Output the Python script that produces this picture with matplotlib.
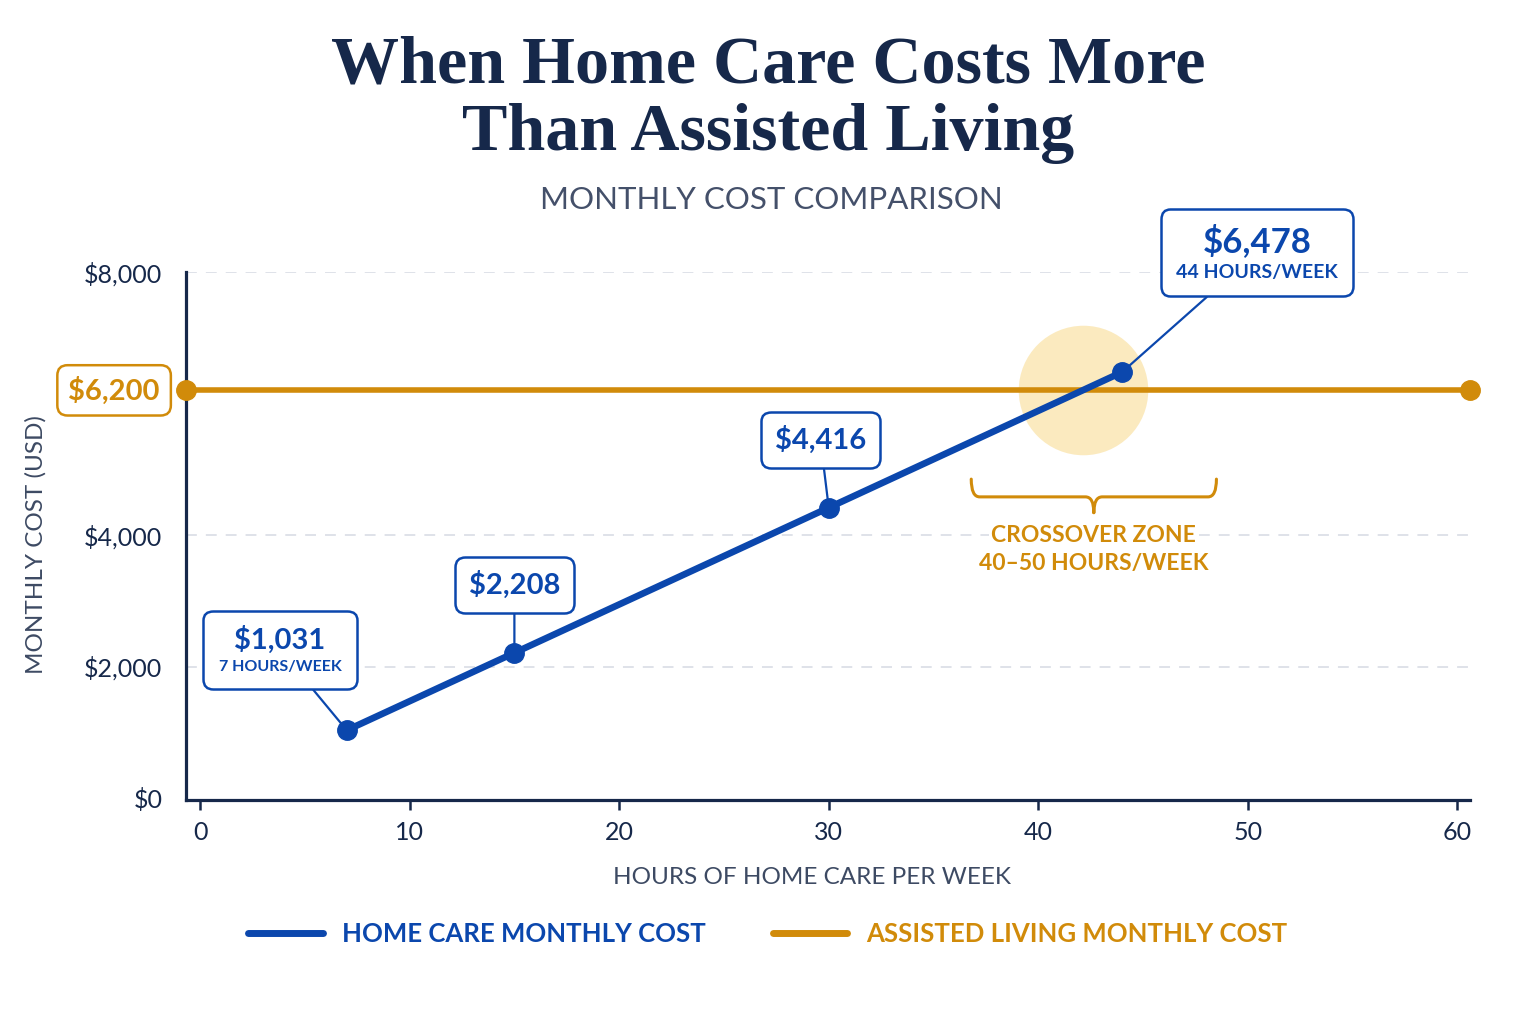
"""
Home care vs assisted living monthly cost chart.
"""

import numpy as np
import matplotlib
matplotlib.use("Agg")
import matplotlib.pyplot as plt
from matplotlib.path import Path
from matplotlib.patches import PathPatch
from matplotlib.offsetbox import AnnotationBbox, TextArea, VPacker
from matplotlib.lines import Line2D
import matplotlib.transforms as mtransforms

plt.rcParams["font.family"] = ["Lato", "DejaVu Sans"]

# data
hours = [7, 15, 30, 44]
home_cost = [1031, 2208, 4416, 6478]
callout_notes = ["7 HOURS/WEEK", None, None, "44 HOURS/WEEK"]
assisted_cost = 6200
y_ticks = [0, 2000, 4000, 8000]
y_tick_labels = ["$0", "$2,000", "$4,000", "$8,000"]
x_ticks = [0, 10, 20, 30, 40, 50, 60]
zone_hours = (36.8, 48.5)

BLUE = "#0b47ad"
GOLD = "#d18b0a"
NAVY = "#16284a"
GREY = "#3d4a63"
GLOW = "#fbe8b8"

fig = plt.figure(figsize=(15.36, 10.24), dpi=100)
fig.patch.set_facecolor("white")
ax = fig.add_axes([186 / 1536, 1 - 800 / 1024, 1284 / 1536, 528 / 1024])
ax.set_xlim(-0.67, 60.6)
ax.set_ylim(-30, 8000)

# title block
fig.text(0.5, 1 - 66 / 1024, "When Home Care Costs More", ha="center", va="center",
         family="Liberation Serif", weight="bold", fontsize=49, color=NAVY)
fig.text(0.5, 1 - 134 / 1024, "Than Assisted Living", ha="center", va="center",
         family="Liberation Serif", weight="bold", fontsize=49, color=NAVY)
fig.text(771 / 1536, 1 - 200 / 1024, "MONTHLY COST COMPARISON", ha="center", va="center",
         fontsize=22.5, color="#44506a")

# grid + axes
for v in y_ticks[1:]:
    ax.axhline(v, color="#dcdfe7", lw=1.3, ls=(0, (6, 5)), zorder=0)
for s in ["top", "right"]:
    ax.spines[s].set_visible(False)
for s in ["left", "bottom"]:
    ax.spines[s].set_color(NAVY)
    ax.spines[s].set_linewidth(2.3)
ax.spines["left"].set_bounds(-30, 8000)

ax.set_yticks(y_ticks)
ax.set_yticklabels(y_tick_labels)
ax.tick_params(axis="y", length=0, pad=17, labelsize=18, labelcolor=NAVY)
ax.set_xticks(x_ticks)
ax.tick_params(axis="x", length=7, width=1.8, color=NAVY, pad=8,
               labelsize=18, labelcolor=NAVY)

ax.set_xlabel("HOURS OF HOME CARE PER WEEK", fontsize=17.5, color=GREY, va="center")
ax.xaxis.set_label_coords((812 - 186) / 1284, -(877 - 800) / 528)
ax.set_ylabel("MONTHLY COST (USD)", fontsize=17.5, color=GREY, va="center")
ax.yaxis.set_label_coords((36 - 186) / 1284, (800 - 545) / 528)

# crossover glow
cross_h = np.interp(assisted_cost, home_cost, hours)
ax.scatter([cross_h], [assisted_cost], s=8700, color=GLOW, alpha=0.9,
           linewidths=0, zorder=1)

# assisted living line
xl = ax.get_xlim()
ax.plot(xl, [assisted_cost, assisted_cost], color=GOLD, lw=4, marker="o",
        markersize=14, clip_on=False, zorder=3, solid_capstyle="butt")

# home care line
ax.plot(hours, home_cost, color=BLUE, lw=4.8, marker="o", markersize=14,
        zorder=4, solid_capstyle="round")

# $6,200 label
trans = mtransforms.blended_transform_factory(ax.transAxes, ax.transData)
ax.text(-0.056, assisted_cost, "$6,200", transform=trans, ha="center", va="center",
        fontsize=21, weight="bold", color=GOLD, clip_on=False,
        bbox=dict(boxstyle="round,pad=0.38,rounding_size=0.35", fc="white",
                  ec=GOLD, lw=1.8))

# callouts
offsets = [(-48, 58), (0, 49), (-6, 49), (97, 86)]
for i, (h, c) in enumerate(zip(hours, home_cost)):
    big = 25 if i == 3 else 21
    parts = [TextArea(f"${c:,}", textprops=dict(fontsize=big, weight="bold", color=BLUE))]
    if callout_notes[i]:
        small = 14 if i == 3 else 11.5
        parts.append(TextArea(callout_notes[i],
                              textprops=dict(fontsize=small, weight="bold", color=BLUE)))
    box = VPacker(children=parts, align="center", pad=0, sep=4)
    padv = 1.1 if callout_notes[i] else 1.0
    ab = AnnotationBbox(box, (h, c), xybox=offsets[i], boxcoords="offset points",
                        frameon=True,
                        bboxprops=dict(boxstyle=f"round,pad={padv},rounding_size=0.7",
                                       fc="white", ec=BLUE, lw=1.8),
                        arrowprops=dict(arrowstyle="-", color=BLUE, lw=1.6,
                                        shrinkA=0, shrinkB=0),
                        zorder=5)
    ax.add_artist(ab)

# crossover brace
x0, x1 = zone_hours
xm = (x0 + x1) / 2
r = 0.4
y_top, y_mid, y_tip = 4850, 4580, 4340
verts = [(x0, y_top), (x0, y_mid), (x0 + r, y_mid), (xm - r, y_mid), (xm, y_mid), (xm, y_tip),
         (xm, y_tip), (xm, y_mid), (xm + r, y_mid), (x1 - r, y_mid), (x1, y_mid), (x1, y_top)]
codes = [Path.MOVETO, Path.CURVE3, Path.CURVE3, Path.LINETO, Path.CURVE3, Path.CURVE3,
         Path.MOVETO, Path.CURVE3, Path.CURVE3, Path.LINETO, Path.CURVE3, Path.CURVE3]
ax.add_patch(PathPatch(Path(verts, codes), fill=False, ec=GOLD, lw=2.2,
                       capstyle="round", zorder=3))
zone_kw = dict(ha="center", va="center", fontsize=16.5, weight="bold", color=GOLD,
               bbox=dict(boxstyle="square,pad=0.1", fc="white", ec="none"))
ax.text(xm, 3990, "CROSSOVER ZONE", **zone_kw)
ax.text(xm, 3570, "40\u201350 HOURS/WEEK", **zone_kw)

# legend
handles = [Line2D([], [], color=BLUE, lw=5, solid_capstyle="round"),
           Line2D([], [], color=GOLD, lw=5, solid_capstyle="round")]
leg = fig.legend(handles, ["HOME CARE MONTHLY COST", "ASSISTED LIVING MONTHLY COST"],
                 loc="center", bbox_to_anchor=(768 / 1536, 1 - 934 / 1024), ncol=2,
                 frameon=False, handlelength=2.9, handletextpad=0.75, columnspacing=2.6,
                 prop=dict(size=18.5, weight="bold"))
for t, col in zip(leg.get_texts(), [BLUE, GOLD]):
    t.set_color(col)

fig.savefig("out.png", dpi=100, facecolor="white")
